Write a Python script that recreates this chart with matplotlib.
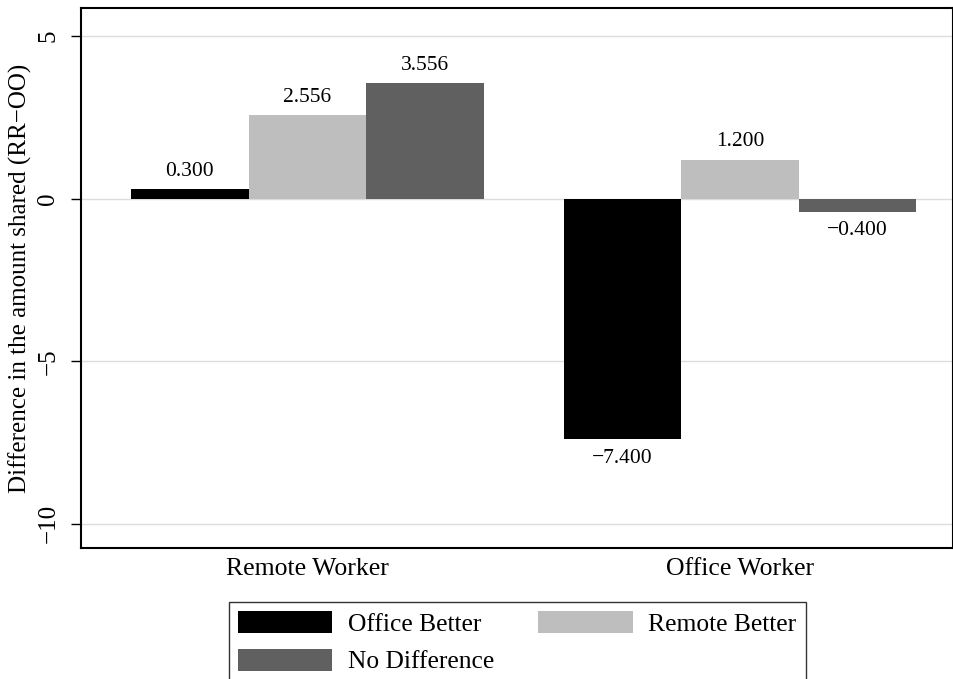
import matplotlib
matplotlib.use('Agg')
import matplotlib.pyplot as plt
import numpy as np

plt.rcParams['font.family'] = ['Liberation Serif', 'DejaVu Serif']
plt.rcParams['axes.unicode_minus'] = True

# data
groups = ['Remote Worker', 'Office Worker']
series = ['Office Better', 'Remote Better', 'No Difference']
office_better = [0.300, -7.400]
remote_better = [2.556, 1.200]
no_difference = [3.556, -0.400]
colors = ['#000000', '#bebebe', '#606060']

fig = plt.figure(figsize=(9.54, 6.79), dpi=100)
ax = fig.add_axes([81 / 954, 1 - 548 / 679, 872 / 954, 540 / 679])

x = np.arange(len(groups))
w = 0.2714
handles = []
for i, (vals, col, name) in enumerate(zip([office_better, remote_better, no_difference], colors, series)):
    pos = x + (i - 1) * w
    b = ax.bar(pos, vals, width=w, color=col, label=name, zorder=3)
    handles.append(b)
    for px, v in zip(pos, vals):
        if v >= 0:
            ax.annotate('%.3f' % v, (px, v), xytext=(0, 6), textcoords='offset points',
                        ha='center', va='bottom', fontsize=15.5)
        else:
            ax.annotate('\u2212%.3f' % abs(v), (px, v), xytext=(0, -7), textcoords='offset points',
                        ha='center', va='top', fontsize=15.5)

ax.set_xlim(-0.523, 1.492)
ax.set_ylim(-10.74, 5.86)
ax.set_yticks([-10, -5, 0, 5])
ax.set_yticklabels(['\u221210', '\u22125', '0', '5'], rotation=90, va='center', fontsize=18)
ax.set_xticks(x)
ax.set_xticklabels(groups, fontsize=18.5)
ax.tick_params(axis='x', length=0, pad=7)
ax.tick_params(axis='y', length=7.5, width=1, pad=8)
ax.yaxis.grid(True, color='#dcdcdc', linewidth=1, zorder=0)
ax.set_axisbelow(True)
for s in ax.spines.values():
    s.set_linewidth(1.5)
ax.set_ylabel('Difference in the amount shared (RR\u2212OO)', fontsize=18, labelpad=4)

# row-wise legend order: Office Better, Remote Better / No Difference
order = [0, 2, 1]
leg = fig.legend(handles=[handles[k] for k in order], labels=[series[k] for k in order],
                 loc='upper left', ncol=2,
                 bbox_to_anchor=(229 / 954, 1 - 602 / 679), borderaxespad=0,
                 fontsize=18.4, frameon=True, fancybox=False, edgecolor='black',
                 handlelength=3.7, handleheight=0.95, handletextpad=0.62,
                 columnspacing=1.7, labelspacing=0.5, borderpad=0.35)
leg.get_frame().set_linewidth(1)

fig.savefig('out.png', dpi=100)
